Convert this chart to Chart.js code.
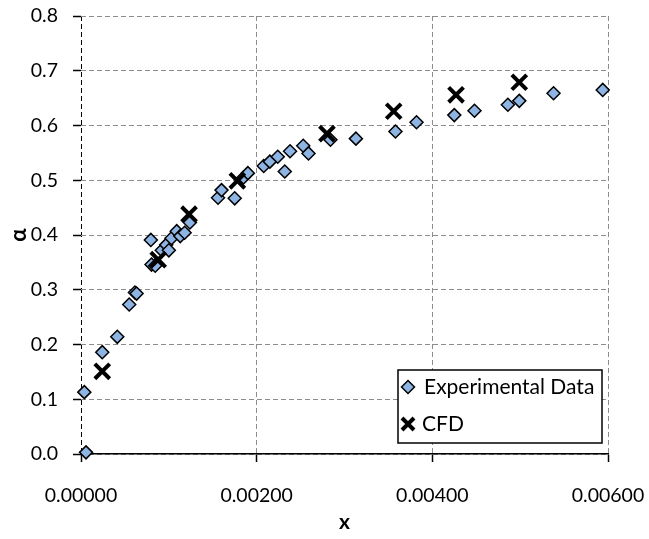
<!DOCTYPE html>
<html>
<head>
<meta charset="utf-8">
<script src="https://cdn.jsdelivr.net/npm/chart.js@4.4.0/dist/chart.umd.min.js"></script>
<style>
  html, body { margin: 0; padding: 0; background: #ffffff; }
  #wrap { width: 649px; height: 539px; position: relative; }
</style>
</head>
<body>
<div id="wrap"><canvas id="c" width="649" height="539"></canvas></div>
<script>
// ---- Data ----
const expX = [0.000038, 0.000057, 0.000242, 0.000413, 0.000549, 0.000614, 0.000633,
  0.000795, 0.000803, 0.000845, 0.000920, 0.000970, 0.001000, 0.001030, 0.001090,
  0.001130, 0.001180, 0.001240,
  0.001560, 0.001600, 0.001750, 0.001850, 0.001900, 0.002080, 0.002150, 0.002240,
  0.002320, 0.002380, 0.002530, 0.002590, 0.002840, 0.003130, 0.003580, 0.003820,
  0.004250, 0.004480, 0.004860, 0.004990, 0.005380, 0.005940];
const expY = [0.113, 0.003, 0.186, 0.214, 0.273, 0.295, 0.293,
  0.391, 0.346, 0.344, 0.372, 0.382, 0.372, 0.394, 0.407,
  0.398, 0.404, 0.423,
  0.468, 0.482, 0.467, 0.505, 0.513, 0.526, 0.534, 0.543,
  0.516, 0.553, 0.563, 0.549, 0.574, 0.576, 0.589, 0.606,
  0.619, 0.627, 0.638, 0.645, 0.659, 0.665];
const cfdX = [0.000242, 0.000879, 0.001230, 0.001780, 0.002800, 0.003560, 0.004270, 0.004990];
const cfdY = [0.151, 0.355, 0.438, 0.499, 0.585, 0.626, 0.656, 0.679];
const seriesNames = ['Experimental Data', 'CFD'];
const xTitle = 'x';
const yTitle = 'α';
const xTicks = [0, 0.002, 0.004, 0.006];
const yTicks = [0, 0.1, 0.2, 0.3, 0.4, 0.5, 0.6, 0.7, 0.8];

const FONT = "Lato, 'Open Sans', sans-serif";
const expColor = '#8db4e2';

const toPts = (xs, ys) => xs.map((x, i) => ({ x: x, y: ys[i] }));

const legendPlugin = {
  id: 'insideLegend',
  afterDraw(chart) {
    const ctx = chart.ctx;
    const box = { l: 398, t: 370, r: 602, b: 443 };
    ctx.save();
    ctx.fillStyle = '#ffffff';
    ctx.fillRect(box.l, box.t, box.r - box.l, box.b - box.t);
    ctx.strokeStyle = '#000000';
    ctx.lineWidth = 1.5;
    ctx.strokeRect(box.l, box.t, box.r - box.l, box.b - box.t);
    const rows = [387, 424];
    chart.data.datasets.forEach((ds, i) => {
      const y = rows[i];
      const cx = 408;
      ctx.save();
      if (ds.pointStyle === 'rectRot') {
        const r = 6.5;
        ctx.beginPath();
        ctx.moveTo(cx, y - r); ctx.lineTo(cx + r, y); ctx.lineTo(cx, y + r); ctx.lineTo(cx - r, y); ctx.closePath();
        ctx.fillStyle = ds.pointBackgroundColor;
        ctx.fill();
        ctx.strokeStyle = ds.pointBorderColor;
        ctx.lineWidth = ds.pointBorderWidth;
        ctx.stroke();
      } else {
        const a = 6;
        ctx.beginPath();
        ctx.moveTo(cx - a, y - a); ctx.lineTo(cx + a, y + a);
        ctx.moveTo(cx + a, y - a); ctx.lineTo(cx - a, y + a);
        ctx.strokeStyle = ds.pointBorderColor;
        ctx.lineWidth = ds.pointBorderWidth;
        ctx.lineCap = 'butt';
        ctx.stroke();
      }
      ctx.restore();
      ctx.fillStyle = '#000000';
      ctx.font = "21px " + FONT;
      ctx.textAlign = 'left';
      ctx.textBaseline = 'middle';
      ctx.fillText(ds.label, i === 0 ? 424 : 422, y);
    });
    ctx.restore();
  }
};

new Chart(document.getElementById('c'), {
  type: 'scatter',
  data: {
    datasets: [
      {
        label: seriesNames[0],
        data: toPts(expX, expY),
        pointStyle: 'rectRot',
        pointRadius: 6.5,
        pointHoverRadius: 6.5,
        pointBackgroundColor: expColor,
        pointBorderColor: '#000000',
        pointBorderWidth: 1.5,
        order: 1,
        clip: 10
      },
      {
        label: seriesNames[1],
        data: toPts(cfdX, cfdY),
        pointStyle: 'crossRot',
        pointRadius: 10.5,
        pointHoverRadius: 10.5,
        pointBackgroundColor: '#000000',
        pointBorderColor: '#000000',
        pointBorderWidth: 4,
        order: 0,
        clip: 12
      }
    ]
  },
  options: {
    responsive: false,
    animation: false,
    devicePixelRatio: 1,
    layout: { padding: { left: 0, right: 41, top: 16, bottom: 0 } },
    plugins: {
      legend: { display: false },
      tooltip: { enabled: false }
    },
    scales: {
      x: {
        type: 'linear',
        min: 0, max: 0.006,
        afterBuildTicks: (s) => { s.ticks = xTicks.map(v => ({ value: v })); },
        afterFit: (s) => { s.height = 85; s.paddingLeft = 0; s.paddingRight = 0; },
        ticks: {
          callback: (v) => Number(v).toFixed(5),
          color: '#000000',
          font: { family: FONT, size: 19.5 },
          padding: 22,
          maxRotation: 0,
          autoSkip: false
        },
        grid: {
          color: (c) => c.tick && c.tick.value === 0 ? '#000000' : '#8c8c8c',
          lineWidth: 1,
          tickLength: 8,
          tickColor: '#000000',
          tickWidth: 1.5
        },
        border: { display: true, color: '#000000', width: 1.5, dash: [5, 3] },
        title: {
          display: true,
          text: xTitle,
          color: '#000000',
          font: { family: FONT, size: 21, weight: 'bold' },
          padding: { top: 0, bottom: 4 }
        }
      },
      y: {
        type: 'linear',
        min: 0, max: 0.8,
        afterBuildTicks: (s) => { s.ticks = yTicks.map(v => ({ value: v })); },
        afterFit: (s) => { s.width = 81; s.paddingTop = 0; s.paddingBottom = 0; },
        ticks: {
          callback: (v) => Number(v).toFixed(1),
          color: '#000000',
          font: { family: FONT, size: 19.5 },
          padding: 15
        },
        grid: {
          color: '#8c8c8c',
          lineWidth: 1,
          tickLength: 8,
          tickColor: '#000000',
          tickWidth: 1.5
        },
        border: { display: false, dash: [5, 3] },
        title: {
          display: true,
          text: yTitle,
          color: '#000000',
          font: { family: FONT, size: 22, weight: 'bold' },
          padding: { top: 6, bottom: 0 }
        }
      }
    }
  },
  plugins: [legendPlugin]
});
</script>
</body>
</html>
